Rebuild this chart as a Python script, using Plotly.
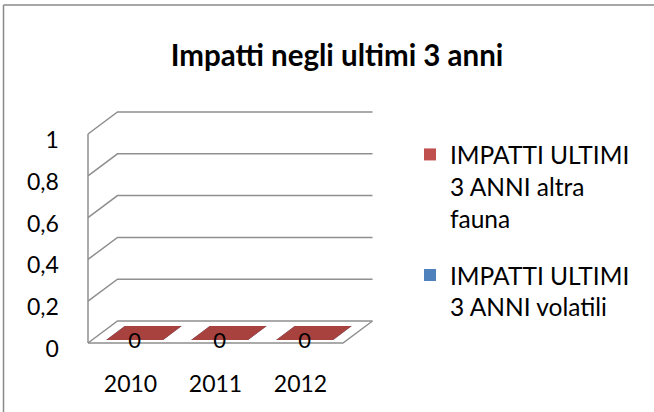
import plotly.graph_objects as go

# ---------------- data ----------------
years = ["2010", "2011", "2012"]
altra_fauna = [0, 0, 0]
volatili = [0, 0, 0]
series_names = ["IMPATTI ULTIMI<br>3 ANNI altra<br>fauna", "IMPATTI ULTIMI<br>3 ANNI volatili"]
y_ticks = [0, 0.2, 0.4, 0.6, 0.8, 1]
y_ticktext = ["0", "0,2", "0,4", "0,6", "0,8", "1"]
title_text = "Impatti negli ultimi 3 anni"

# ---------------- styling / geometry ----------------
W, H = 654, 412
FONT = "Lato"
GRID = "#8f8f8f"
RED_FACE = "#a8423f"
RED_LEG = "#c0504d"
BLUE_FACE = "#3f6fa8"
BLUE_LEG = "#4f81bd"

# pixel mapping of the front plane (category units / value units)
PX_PER_CAT = 85.0
X0_PX = 88.0            # px of category -0.5
Y0_PX = 343.0           # px of value 0
PX_PER_VAL = 209.0
DX = 29.5 / PX_PER_CAT  # depth offset (category units)
DY = 22.0 / PX_PER_VAL  # depth offset (value units)

XR = [-0.62, 2.98]
YR = [-0.06, 1.16]
def xpx(c):
    return X0_PX + (c + 0.5) * PX_PER_CAT
def ypx(v):
    return Y0_PX - v * PX_PER_VAL

x_dom = [xpx(XR[0]) / W, xpx(XR[1]) / W]
y_dom = [(H - ypx(YR[0])) / H, (H - ypx(YR[1])) / H]

n = len(years)
xs_cat = list(range(n))
left, right = -0.5, n - 0.5

fig = go.Figure()

# ---- 3D frame (walls, floor, gridlines) derived from ticks / categories ----
fx, fy = [], []
for v in y_ticks:
    # diagonal from the front axis to the back wall + back gridline
    fx += [left, left + DX, right + DX, None]
    fy += [v, v + DY, v + DY, None]
# front vertical axis
fx += [left, left, None]
fy += [0, max(y_ticks), None]
# floor front edge and right side
fx += [left, right, right + DX, None]
fy += [0, 0, DY, None]
fig.add_trace(go.Scatter(x=fx, y=fy, mode="lines",
                         line=dict(color=GRID, width=1.5),
                         hoverinfo="skip", showlegend=False))

# ---- 3D bars ----
HALF_W = 0.335
D0, D1 = 0.14, 0.77

def bar_polys(i, v):
    xa, xb = i - HALF_W, i + HALF_W
    polys = []
    # front face
    polys.append(([xa + D0 * DX, xb + D0 * DX, xb + D0 * DX, xa + D0 * DX],
                  [D0 * DY, D0 * DY, v + D0 * DY, v + D0 * DY]))
    # right side face
    polys.append(([xb + D0 * DX, xb + D1 * DX, xb + D1 * DX, xb + D0 * DX],
                  [D0 * DY, D1 * DY, v + D1 * DY, v + D0 * DY]))
    # top face
    polys.append(([xa + D0 * DX, xb + D0 * DX, xb + D1 * DX, xa + D1 * DX],
                  [v + D0 * DY, v + D0 * DY, v + D1 * DY, v + D1 * DY]))
    return polys

for vals, col in ((volatili, BLUE_FACE), (altra_fauna, RED_FACE)):
    px_, py_ = [], []
    for i, v in enumerate(vals):
        for xx, yy in bar_polys(i, v):
            px_ += xx + [xx[0], None]
            py_ += yy + [yy[0], None]
    fig.add_trace(go.Scatter(x=px_, y=py_, mode="lines", fill="toself",
                             fillcolor=col, line=dict(width=0, color=col),
                             hoverinfo="skip", showlegend=False))

# ---- legend entries (actual series as zero-height bars) ----
fig.add_trace(go.Bar(x=xs_cat, y=altra_fauna, name=series_names[0],
                     marker=dict(color=RED_LEG, line=dict(width=0)),
                     legendgroup="a", width=0.01))
fig.add_trace(go.Bar(x=xs_cat, y=volatili, name=series_names[1],
                     marker=dict(color=BLUE_LEG, line=dict(width=0)),
                     legendgroup="b", width=0.01))

# ---- data labels ----
fig.add_trace(go.Scatter(x=[i + D0 * DX for i in xs_cat], y=altra_fauna,
                         mode="text",
                         text=[str(v) for v in altra_fauna],
                         textposition="middle center",
                         textfont=dict(family=FONT, size=22, color="#000000"),
                         hoverinfo="skip", showlegend=False, cliponaxis=False))

fig.update_layout(
    width=W, height=H,
    margin=dict(l=0, r=0, t=0, b=0, autoexpand=False),
    paper_bgcolor="white", plot_bgcolor="rgba(0,0,0,0)",
    font=dict(family=FONT, size=22, color="#000000"),
    title=dict(text="<b>" + title_text + "</b>", x=337 / W, xanchor="center",
               y=1 - 56 / H, yanchor="middle",
               font=dict(family=FONT, size=29.5, color="#000000")),
    xaxis=dict(domain=x_dom, range=XR, tickvals=xs_cat, ticktext=years,
               showgrid=False, zeroline=False, showline=False, automargin=False,
               ticks="", ticklabelstandoff=12,
               tickfont=dict(family=FONT, size=23, color="#000000"),
               fixedrange=True),
    yaxis=dict(domain=y_dom, range=YR, tickvals=y_ticks, ticktext=y_ticktext,
               showgrid=False, zeroline=False, showline=False, automargin=False,
               ticks="", ticklabelstandoff=18, ticklabelshift=6,
               tickfont=dict(family=FONT, size=23, color="#000000"),
               fixedrange=True),
    legend=dict(x=410 / W, xanchor="left", y=1 - 132 / H, yanchor="top",
                valign="top", tracegroupgap=22,
                font=dict(family=FONT, size=24.5, color="#000000"),
                bgcolor="rgba(0,0,0,0)"),
    showlegend=True,
    barmode="overlay",
    hovermode=False,
    shapes=[
        dict(type="line", xref="paper", yref="paper",
             x0=3.5 / W, x1=3.5 / W, y0=1 - 5 / H, y1=-0.1,
             line=dict(color="#8a8a8a", width=1.5)),
        dict(type="line", xref="paper", yref="paper",
             x0=3.5 / W, x1=1.1, y0=1 - 5 / H, y1=1 - 5 / H,
             line=dict(color="#8a8a8a", width=1.5)),
    ],
)

fig.write_html("out.html",
               config={"displayModeBar": False},
               post_script="document.body.style.margin='0';"
                           "document.body.style.padding='0';")
